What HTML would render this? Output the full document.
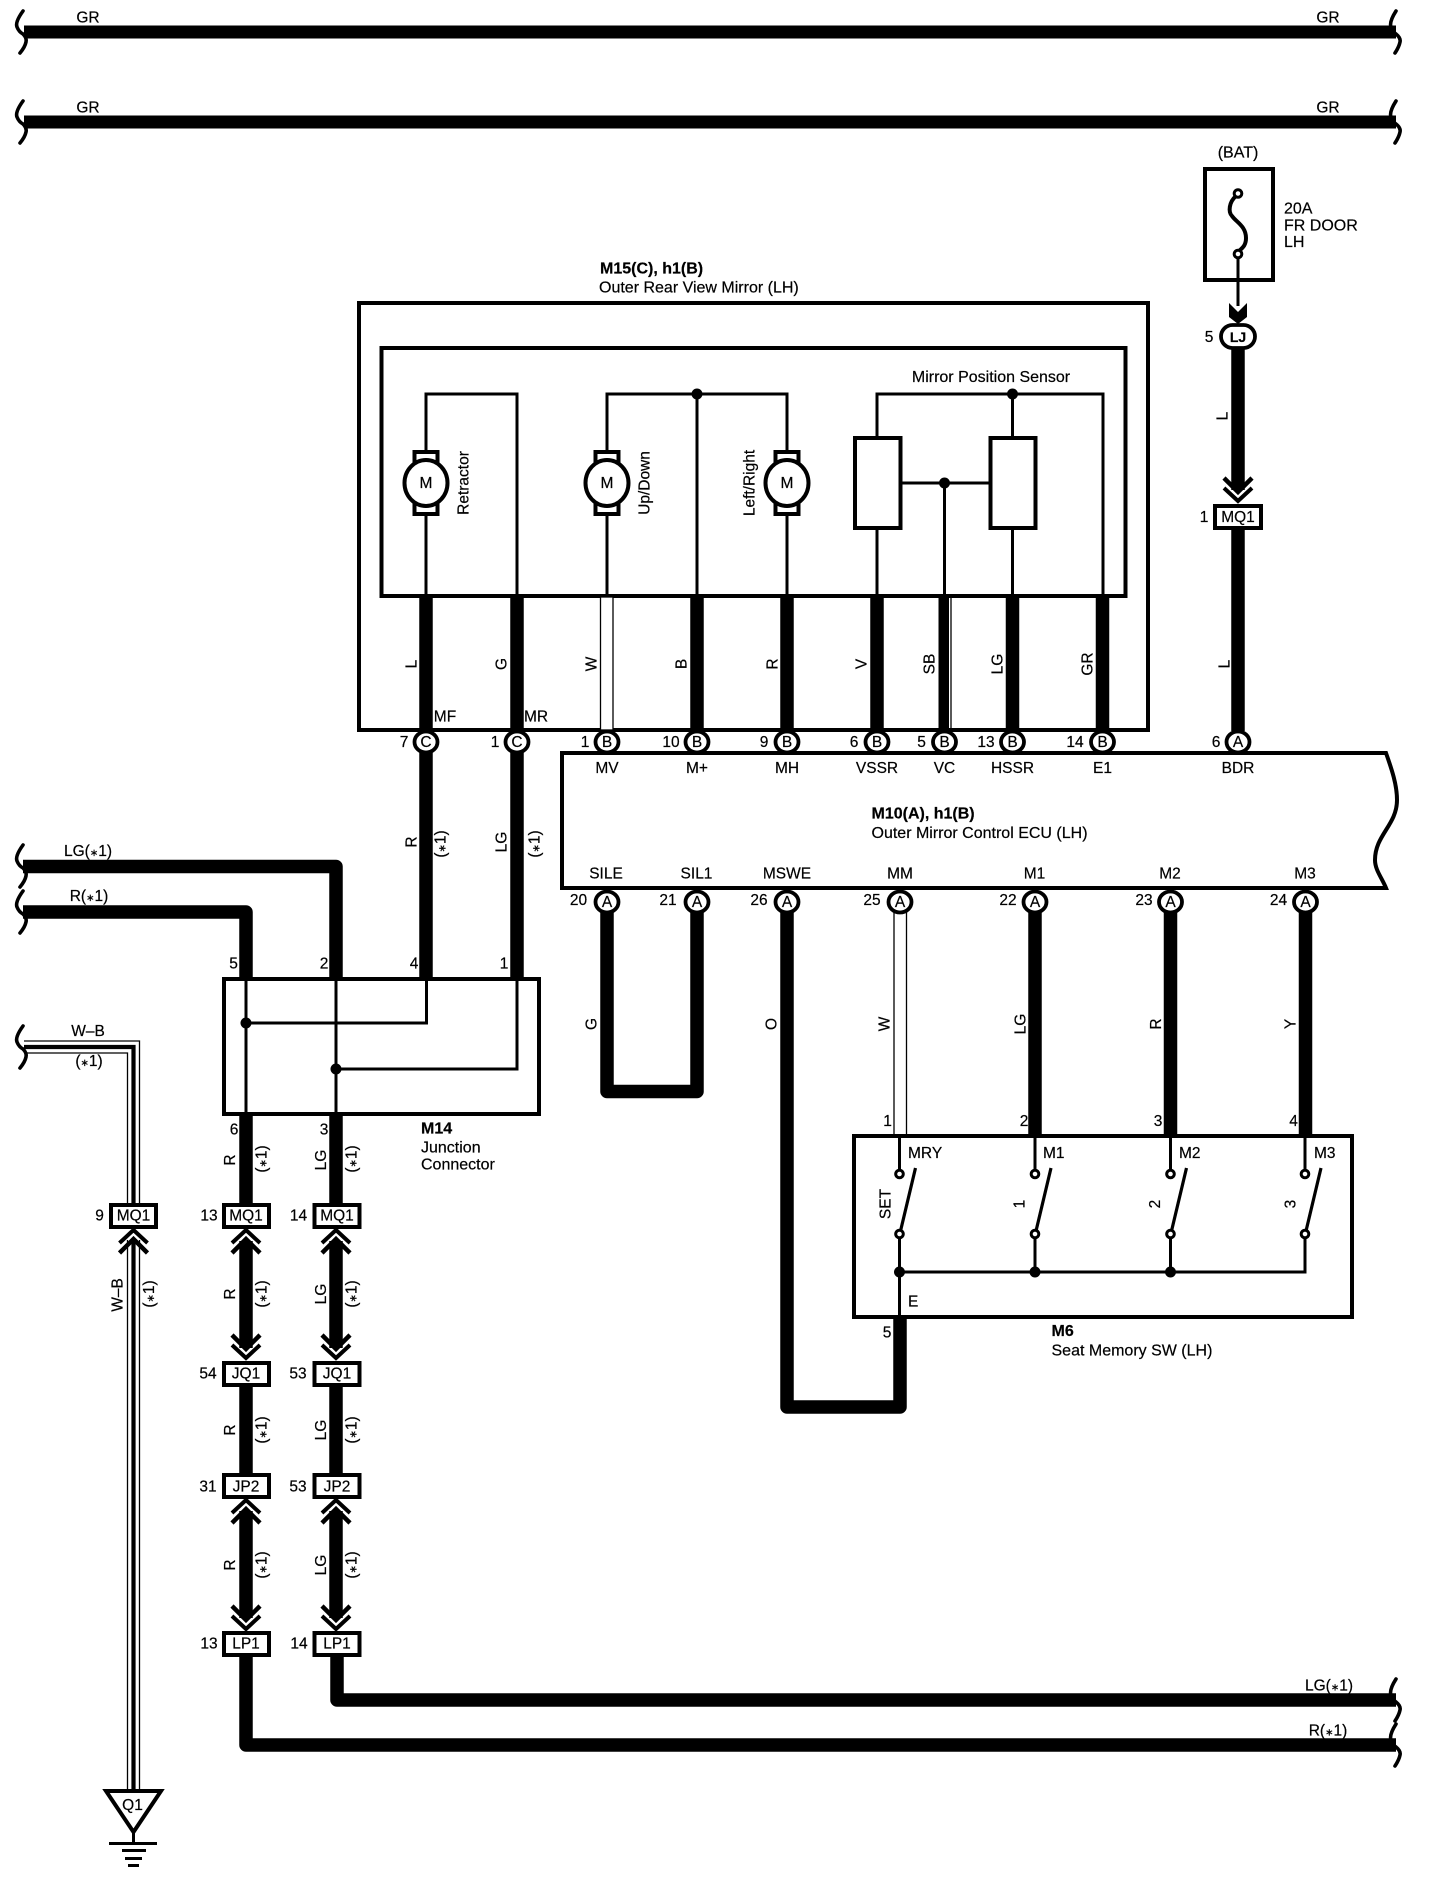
<!DOCTYPE html>
<html><head><meta charset="utf-8"><title>Wiring diagram</title>
<style>
html,body{margin:0;padding:0;background:#fff}
svg{display:block}
text{font-family:"Liberation Sans",sans-serif;font-size:15.5px;fill:#000;text-anchor:middle;stroke:#000;stroke-width:.2}
tspan.s{font-size:10px}
.l{text-anchor:start}
.t{font-size:16px}
.b{font-weight:bold;font-size:16px}
.w{fill:none;stroke:#000;stroke-width:13.5;stroke-linejoin:round}
.n{fill:none;stroke:#000;stroke-width:3}
.x{fill:none;stroke:#000;stroke-width:1.3}
.box{fill:none;stroke:#000;stroke-width:4}
.wb{fill:#fff;stroke:#000;stroke-width:4}
.pin{fill:#fff;stroke:#000;stroke-width:3.8}
.br{fill:none;stroke:#000;stroke-width:3.6;stroke-linecap:round}
</style></head><body>
<svg xmlns="http://www.w3.org/2000/svg" width="1440" height="1880" viewBox="0 0 1440 1880">
<defs>
<path id="bl" class="br" d="M23,-21 Q15,-10 17,-5 Q19,0 23,2 Q27,6 26,10 Q25,15 20,21"/>
<path id="brk" class="br" d="M1396,-21 Q1389,-10 1391,-5 Q1393,0 1396,2 Q1401,6 1400,10 Q1399,15 1395,21"/>
<g id="ch"><path d="M-14,15 L0,2 L14,15" fill="none" stroke="#000" stroke-width="4"/><path d="M-14,25 L0,11 L14,25" fill="none" stroke="#000" stroke-width="4.5"/></g>
<g id="mot"><rect x="-11.5" y="-31" width="23" height="11" class="wb" stroke-width="3.5"/><rect x="-11.5" y="20" width="23" height="11" class="wb"/><ellipse rx="21.5" ry="23" class="wb"/><text y="5">M</text></g>
<g id="sw"><circle cx="0" cy="0" r="3.8" fill="#fff" stroke="#000" stroke-width="3"/><circle cx="0" cy="60" r="3.8" fill="#fff" stroke="#000" stroke-width="3"/><path d="M16,-6 L1,57" fill="none" stroke="#000" stroke-width="3.2"/></g>
</defs>

<!-- top rails -->
<g><rect x="24" y="25.5" width="1372" height="13"/><rect x="24" y="115.5" width="1372" height="13"/>
<use href="#bl" y="32"/><use href="#bl" y="122"/><use href="#brk" y="32"/><use href="#brk" y="122"/></g>
<text x="88" y="22.500">GR</text><text x="88" y="112.500">GR</text><text x="1328" y="22.500">GR</text><text x="1328" y="112.500">GR</text>

<!-- fuse -->
<text x="1238" y="157.500" class="t">(BAT)</text>
<rect x="1205" y="169" width="68" height="111" class="box"/>
<path d="M1236,196 C1229,202 1228,212 1232,216 C1236,222 1246,226 1246,238 C1246,246 1242,248 1238,252" fill="none" stroke="#000" stroke-width="4"/>
<circle cx="1238" cy="193.500" r="3.800" fill="#fff" stroke="#000" stroke-width="3"/>
<circle cx="1238" cy="254" r="3.800" fill="#fff" stroke="#000" stroke-width="3"/>
<path d="M1238,258 V306" class="n" stroke-width="2.5"/>
<path d="M1229,303 L1238,312 L1247,303 V317 L1238,324 L1229,317 Z"/>
<text x="1284" y="213.500" class="l t">20A</text>
<text x="1284" y="230.500" class="l t">FR DOOR</text>
<text x="1284" y="247" class="l t">LH</text>
<rect x="1221" y="325" width="34" height="23" rx="11.500" class="pin"/>
<text x="1238" y="342" style="font-weight:bold;font-size:14px">LJ</text>
<text x="1209" y="342">5</text>
<path d="M1238,349 V490" class="w"/>
<use href="#ch" transform="translate(1238,503) scale(1,-1)"/>
<path d="M1238,529 V731" class="w"/>
<rect x="1215" y="506" width="46" height="22" class="wb"/>
<text x="1238" y="522">MQ1</text><text x="1204" y="522">1</text>
<text transform="translate(1222,416) rotate(-90)" y="5.500">L</text>
<text transform="translate(1224,664) rotate(-90)" y="5.500">L</text>

<!-- mirror assembly -->
<text x="600" y="273.500" class="b l">M15(C), h1(B)</text>
<text x="599" y="292.500" class="t l">Outer Rear View Mirror (LH)</text>
<rect x="359" y="303" width="789" height="427" class="box"/>
<rect x="381.500" y="348" width="744" height="248" class="box"/>
<!-- thick stubs -->
<path d="M426,596 V731 M517,596 V731 M697,596 V731 M787,596 V731 M877,596 V731 M1012.500,596 V731 M1102.500,596 V731" class="w"/>
<rect x="600.500" y="597" width="12.500" height="133" fill="#fff" stroke="#000" stroke-width="1.300"/>
<rect x="938.500" y="598" width="10.500" height="132"/><path d="M951,598 V730" class="x"/>
<!-- internal thin -->
<path d="M426,596 V394 H517 V596 M607,596 V394 H787 V596 M697,394 V596 M877,596 V394 H1103 V596 M1012.500,394 V596 M944.500,483 V596 M900,483 H990" class="n"/>
<circle cx="697" cy="394" r="5.500"/><circle cx="1012.500" cy="394" r="5.500"/><circle cx="944.500" cy="483" r="5.500"/>
<use href="#mot" x="426" y="483"/><use href="#mot" x="607" y="483"/><use href="#mot" x="787" y="483"/>
<rect x="855" y="438" width="45.500" height="90" class="wb"/><rect x="990.500" y="438" width="45" height="90" class="wb"/>
<text x="991" y="382" class="t">Mirror Position Sensor</text>
<text transform="translate(463,483) rotate(-90)" y="5.500">Retractor</text>
<text transform="translate(644,483) rotate(-90)" y="5.500">Up/Down</text>
<text transform="translate(749,483) rotate(-90)" y="5.500">Left/Right</text>
<g>
<text transform="translate(411,664) rotate(-90)" y="5.500">L</text>
<text transform="translate(501,664) rotate(-90)" y="5.500">G</text>
<text transform="translate(591,664) rotate(-90)" y="5.500">W</text>
<text transform="translate(681,664) rotate(-90)" y="5.500">B</text>
<text transform="translate(772,664) rotate(-90)" y="5.500">R</text>
<text transform="translate(861,664) rotate(-90)" y="5.500">V</text>
<text transform="translate(929,664) rotate(-90)" y="5.500">SB</text>
<text transform="translate(997,664) rotate(-90)" y="5.500">LG</text>
<text transform="translate(1087,664) rotate(-90)" y="5.500">GR</text>
</g>
<text x="445" y="721.500">MF</text><text x="536" y="721.500">MR</text>

<!-- ECU -->
<path d="M562,753 H1386 C1392,770 1397,785 1397,800 C1397,825 1375,835 1375,860 C1375,870 1382,878 1386,888 H562 Z" fill="#fff" stroke="#000" stroke-width="4"/>
<g>
<ellipse cx="426" cy="742" rx="11.500" ry="10.500" class="pin"/><text x="426" y="747">C</text><text x="404" y="747">7</text>
<ellipse cx="517" cy="742" rx="11.500" ry="10.500" class="pin"/><text x="517" y="747">C</text><text x="495" y="747">1</text>
<ellipse cx="607" cy="742" rx="11.500" ry="10.500" class="pin"/><text x="607" y="747">B</text><text x="585" y="747">1</text>
<ellipse cx="697" cy="742" rx="11.500" ry="10.500" class="pin"/><text x="697" y="747">B</text><text x="671" y="747">10</text>
<ellipse cx="787" cy="742" rx="11.500" ry="10.500" class="pin"/><text x="787" y="747">B</text><text x="764" y="747">9</text>
<ellipse cx="877" cy="742" rx="11.500" ry="10.500" class="pin"/><text x="877" y="747">B</text><text x="854" y="747">6</text>
<ellipse cx="944.500" cy="742" rx="11.500" ry="10.500" class="pin"/><text x="944.500" y="747">B</text><text x="921.500" y="747">5</text>
<ellipse cx="1012.500" cy="742" rx="11.500" ry="10.500" class="pin"/><text x="1012.500" y="747">B</text><text x="986" y="747">13</text>
<ellipse cx="1102.500" cy="742" rx="11.500" ry="10.500" class="pin"/><text x="1102.500" y="747">B</text><text x="1075" y="747">14</text>
<ellipse cx="1238" cy="742" rx="11.500" ry="10.500" class="pin"/><text x="1238" y="747">A</text><text x="1216" y="747">6</text>
</g>
<g>
<text x="607" y="773">MV</text><text x="697" y="773">M+</text><text x="787" y="773">MH</text><text x="877" y="773">VSSR</text><text x="944.500" y="773">VC</text><text x="1012.500" y="773">HSSR</text><text x="1102.500" y="773">E1</text><text x="1238" y="773">BDR</text>
<text x="606" y="878.500">SILE</text><text x="696.500" y="878.500">SIL1</text><text x="787" y="878.500">MSWE</text><text x="900" y="878.500">MM</text><text x="1034.500" y="878.500">M1</text><text x="1170" y="878.500">M2</text><text x="1305" y="878.500">M3</text>
</g>
<text x="871.500" y="818.500" class="b l">M10(A), h1(B)</text>
<text x="871.500" y="838" class="t l">Outer Mirror Control ECU (LH)</text>

<!-- lower wires -->
<path d="M607,905 V1091.500 H697 V905" class="w"/>
<path d="M787,905 V1407 H900 V1317" class="w"/>
<path d="M1035,905 V1136 M1170.500,905 V1136 M1305.500,905 V1136" class="w"/>
<path d="M894,910 V1136 M906.500,910 V1136" class="x"/>
<g>
<ellipse cx="607" cy="902" rx="11.500" ry="10.500" class="pin"/><text x="607" y="907">A</text><text x="578.500" y="905">20</text>
<ellipse cx="697" cy="902" rx="11.500" ry="10.500" class="pin"/><text x="697" y="907">A</text><text x="668" y="905">21</text>
<ellipse cx="787" cy="902" rx="11.500" ry="10.500" class="pin"/><text x="787" y="907">A</text><text x="759" y="905">26</text>
<ellipse cx="900" cy="902" rx="11.500" ry="10.500" class="pin"/><text x="900" y="907">A</text><text x="872" y="905">25</text>
<ellipse cx="1035" cy="902" rx="11.500" ry="10.500" class="pin"/><text x="1035" y="907">A</text><text x="1008" y="905">22</text>
<ellipse cx="1170.500" cy="902" rx="11.500" ry="10.500" class="pin"/><text x="1170.500" y="907">A</text><text x="1144" y="905">23</text>
<ellipse cx="1305.500" cy="902" rx="11.500" ry="10.500" class="pin"/><text x="1305.500" y="907">A</text><text x="1278.500" y="905">24</text>
</g>
<text transform="translate(591,1024) rotate(-90)" y="5.500">G</text>
<text transform="translate(771,1024) rotate(-90)" y="5.500">O</text>
<text transform="translate(884,1024) rotate(-90)" y="5.500">W</text>
<text transform="translate(1020,1024) rotate(-90)" y="5.500">LG</text>
<text transform="translate(1155.500,1024) rotate(-90)" y="5.500">R</text>
<text transform="translate(1290,1024) rotate(-90)" y="5.500">Y</text>

<!-- M6 switch -->
<rect x="854" y="1136" width="498" height="181" class="box"/>
<path d="M899.500,1136 V1174 M1035,1136 V1174 M1170.500,1136 V1174 M1305,1136 V1174 M899.500,1234 V1317 M1035,1234 V1272 M1170.500,1234 V1272 M1305,1234 V1272 H899.500" class="n"/>
<use href="#sw" x="899.500" y="1174"/><use href="#sw" x="1035" y="1174"/><use href="#sw" x="1170.500" y="1174"/><use href="#sw" x="1305" y="1174"/>
<circle cx="899.500" cy="1272" r="5.500"/><circle cx="1035" cy="1272" r="5.500"/><circle cx="1170.500" cy="1272" r="5.500"/>
<text x="908" y="1158" class="l">MRY</text><text x="1043" y="1158" class="l">M1</text><text x="1179" y="1158" class="l">M2</text><text x="1314" y="1158" class="l">M3</text><text x="908" y="1306.500" class="l">E</text>
<text transform="translate(885,1204) rotate(-90)" y="5.500">SET</text>
<text transform="translate(1019,1204) rotate(-90)" y="5.500">1</text>
<text transform="translate(1154.500,1204) rotate(-90)" y="5.500">2</text>
<text transform="translate(1290,1204) rotate(-90)" y="5.500">3</text>
<text x="887.500" y="1126">1</text><text x="1024" y="1126">2</text><text x="1158" y="1126">3</text><text x="1293.500" y="1126">4</text><text x="887" y="1337.500">5</text>
<text x="1051.500" y="1336" class="b l">M6</text>
<text x="1051.500" y="1355.500" class="t l">Seat Memory SW (LH)</text>

<!-- junction connector M14 -->
<path d="M23,866.500 H336 V978" class="w"/>
<path d="M23,912 H246 V978" class="w"/>
<use href="#bl" y="866"/><use href="#bl" y="912"/>
<path d="M426,752 V978 M517,752 V978" class="w"/>
<text x="88" y="856">LG(<tspan class="s">∗</tspan>1)</text><text x="89" y="901">R(<tspan class="s">∗</tspan>1)</text>
<text transform="translate(411,842) rotate(-90)" y="5.500">R</text>
<text transform="translate(440,844) rotate(-90)" y="5.500">(<tspan class="s">∗</tspan>1)</text>
<text transform="translate(501,842) rotate(-90)" y="5.500">LG</text>
<text transform="translate(534,844) rotate(-90)" y="5.500">(<tspan class="s">∗</tspan>1)</text>
<rect x="224" y="979" width="315" height="135" class="box"/>
<path d="M246,978 V1114 M336,978 V1114 M426.500,978 V1023 H246 M517,978 V1069 H336" class="n"/>
<circle cx="246" cy="1023" r="5.500"/><circle cx="336" cy="1069" r="5.500"/>
<text x="233.500" y="968.500">5</text><text x="324" y="968.500">2</text><text x="414" y="968.500">4</text><text x="504" y="968.500">1</text>
<text x="234" y="1134.500">6</text><text x="324" y="1134.500">3</text>
<text x="421" y="1133.500" class="b l">M14</text>
<text x="421" y="1152.500" class="t l">Junction</text>
<text x="421" y="1169.500" class="t l">Connector</text>

<!-- W-B ground -->
<path d="M24,1041 H139.500 V1205 M24,1053 H127.500 V1205 M127.500,1240 V1792 M139.500,1240 V1792" class="x"/>
<path d="M24,1047 H133.500 V1205 M133.500,1240 V1792" fill="none" stroke="#000" stroke-width="4.200"/>
<use href="#bl" y="1047"/>
<text x="88" y="1036">W–B</text><text x="89" y="1066">(<tspan class="s">∗</tspan>1)</text>
<text transform="translate(117,1295) rotate(-90)" y="5.500">W–B</text>
<text transform="translate(148.500,1294) rotate(-90)" y="5.500">(<tspan class="s">∗</tspan>1)</text>
<use href="#ch" x="133.500" y="1228"/>
<path d="M106,1791 H161 L133.500,1832 Z" fill="#fff" stroke="#000" stroke-width="4"/>
<text x="132.500" y="1810">Q1</text>
<path d="M133.500,1833 V1843" class="n"/>
<rect x="109" y="1842" width="48" height="3"/><rect x="122" y="1849" width="24" height="3"/><rect x="125" y="1857" width="17" height="3"/><rect x="128" y="1864" width="11" height="3"/>

<!-- vertical chains -->
<path d="M246,1114 V1204 M336,1114 V1204 M246,1241 V1348 M336,1241 V1348 M246,1386 V1474 M336,1386 V1474 M246,1511 V1618 M336,1511 V1618" class="w"/>
<path d="M246,1656 V1745 H1396 M337,1656 V1700 H1396" class="w"/>
<use href="#brk" y="1700"/><use href="#brk" y="1745"/>
<text x="1329" y="1690.500">LG(<tspan class="s">∗</tspan>1)</text><text x="1328" y="1735.500">R(<tspan class="s">∗</tspan>1)</text>
<use href="#ch" x="246" y="1228"/><use href="#ch" x="336" y="1228"/>
<use href="#ch" x="246" y="1498"/><use href="#ch" x="336" y="1498"/>
<use href="#ch" transform="translate(246,1360) scale(1,-1)"/><use href="#ch" transform="translate(336,1360) scale(1,-1)"/>
<use href="#ch" transform="translate(246,1631) scale(1,-1)"/><use href="#ch" transform="translate(336,1631) scale(1,-1)"/>
<g>
<rect x="111" y="1205" width="45" height="22" class="wb"/><text x="133.500" y="1220.500">MQ1</text><text x="99.500" y="1220.500">9</text>
<rect x="224" y="1205" width="45" height="22" class="wb"/><text x="246" y="1220.500">MQ1</text><text x="209" y="1220.500">13</text>
<rect x="314.500" y="1205" width="45" height="22" class="wb"/><text x="337" y="1220.500">MQ1</text><text x="298.500" y="1220.500">14</text>
<rect x="224" y="1363" width="45" height="22" class="wb"/><text x="246" y="1378.500">JQ1</text><text x="208" y="1378.500">54</text>
<rect x="314.500" y="1363" width="45" height="22" class="wb"/><text x="337" y="1378.500">JQ1</text><text x="298" y="1378.500">53</text>
<rect x="224" y="1475" width="45" height="22" class="wb"/><text x="246" y="1491.500">JP2</text><text x="208" y="1491.500">31</text>
<rect x="314.500" y="1475" width="45" height="22" class="wb"/><text x="337" y="1491.500">JP2</text><text x="298" y="1491.500">53</text>
<rect x="224" y="1633" width="45" height="22" class="wb"/><text x="246" y="1648.500">LP1</text><text x="209" y="1648.500">13</text>
<rect x="314.500" y="1633" width="45" height="22" class="wb"/><text x="337" y="1648.500">LP1</text><text x="299" y="1648.500">14</text>
</g>
<g>
<text transform="translate(229.500,1160) rotate(-90)" y="5.500">R</text><text transform="translate(261,1159) rotate(-90)" y="5.500">(<tspan class="s">∗</tspan>1)</text>
<text transform="translate(320.500,1160) rotate(-90)" y="5.500">LG</text><text transform="translate(351,1159) rotate(-90)" y="5.500">(<tspan class="s">∗</tspan>1)</text>
<text transform="translate(229.500,1294) rotate(-90)" y="5.500">R</text><text transform="translate(261,1294) rotate(-90)" y="5.500">(<tspan class="s">∗</tspan>1)</text>
<text transform="translate(320.500,1294) rotate(-90)" y="5.500">LG</text><text transform="translate(351,1294) rotate(-90)" y="5.500">(<tspan class="s">∗</tspan>1)</text>
<text transform="translate(229.500,1430) rotate(-90)" y="5.500">R</text><text transform="translate(261,1430) rotate(-90)" y="5.500">(<tspan class="s">∗</tspan>1)</text>
<text transform="translate(320.500,1430) rotate(-90)" y="5.500">LG</text><text transform="translate(351,1430) rotate(-90)" y="5.500">(<tspan class="s">∗</tspan>1)</text>
<text transform="translate(229.500,1565) rotate(-90)" y="5.500">R</text><text transform="translate(261,1565) rotate(-90)" y="5.500">(<tspan class="s">∗</tspan>1)</text>
<text transform="translate(320.500,1565) rotate(-90)" y="5.500">LG</text><text transform="translate(351,1565) rotate(-90)" y="5.500">(<tspan class="s">∗</tspan>1)</text>
</g>
</svg>
</body></html>
